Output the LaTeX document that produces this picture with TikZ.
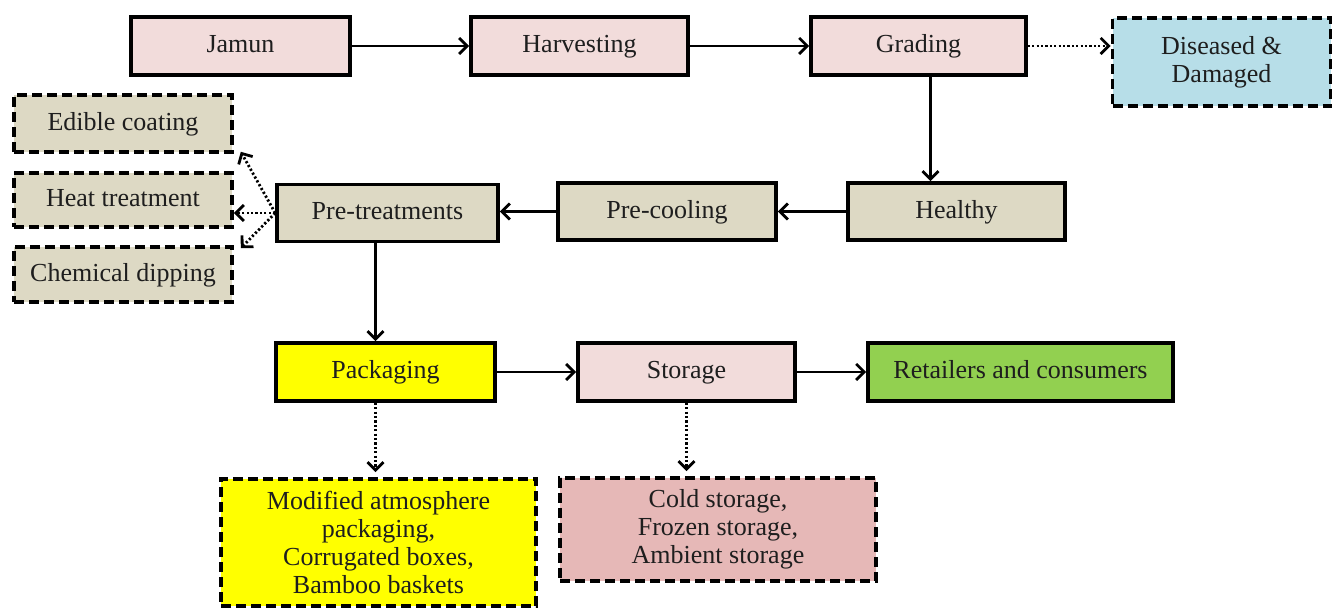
\documentclass[tikz,border=0pt]{standalone}
\usepackage{fontspec}
\setmainfont{Liberation Serif}
\usetikzlibrary{arrows.meta}
\definecolor{pinkbox}{HTML}{F2DCDB}
\definecolor{tanbox}{HTML}{DDD9C4}
\definecolor{bluebox}{HTML}{B7DEE8}
\definecolor{yelbox}{HTML}{FFFF00}
\definecolor{greenbox}{HTML}{92D050}
\definecolor{rosebox}{HTML}{E6B8B7}
\definecolor{txt}{HTML}{1E1E1E}
\tikzset{
  box/.style={draw=black, line width=3.6pt, rectangle, align=center, text=txt,
    font=\fontsize{26}{28}\selectfont, inner sep=0pt, minimum height=58pt},
  one/.style={text height=18pt, text depth=4pt},
  dbox/.style={box, dash pattern=on 10pt off 5pt},
  arr/.style={line width=2.8pt, -{Straight Barb[length=8pt,width=16pt,line width=2.8pt]}},
  darr/.style={arr, dash pattern=on 2.2pt off 2.2pt}
}
\begin{document}
\begin{tikzpicture}[x=1pt,y=-1pt]
\useasboundingbox (0,0) rectangle (1334,609);
% top row
\node[box, one, fill=pinkbox, minimum width=219pt] (jamun) at (240.5,46) {Jamun};
\node[box, one, fill=pinkbox, minimum width=217pt] (harv) at (579.5,46) {Harvesting};
\node[box, one, fill=pinkbox, minimum width=215pt] (grad) at (918.5,46) {Grading};
\node[dbox, fill=bluebox, minimum width=218pt, minimum height=88pt] (dis) at (1221.5,62) {Diseased \&\\Damaged};
% second row
\node[box, one, fill=tanbox, minimum width=217pt, minimum height=57pt] (healthy) at (956.5,211.5) {Healthy};
\node[box, one, fill=tanbox, minimum width=218pt, minimum height=57pt] (precool) at (667,211.5) {Pre-cooling};
\node[box, one, fill=tanbox, minimum width=221pt, minimum height=57pt] (pretreat) at (387.5,213) {Pre-treatments};
% left options
\node[dbox, one, fill=tanbox, minimum width=218pt, minimum height=57pt] (edible) at (123,123.5) {Edible coating};
\node[dbox, one, fill=tanbox, minimum width=218pt, minimum height=54pt] (heat) at (123,200) {Heat treatment};
\node[dbox, one, fill=tanbox, minimum width=218pt, minimum height=55pt] (chem) at (123,274.5) {Chemical dipping};
% third row
\node[box, one, fill=yelbox, minimum width=219pt] (pack) at (385.5,372) {Packaging};
\node[box, one, fill=pinkbox, minimum width=217pt] (stor) at (686.5,372) {Storage};
\node[box, one, fill=greenbox, minimum width=305pt] (retail) at (1020.5,372) {Retailers and consumers};
% bottom options
\node[dbox, fill=yelbox, minimum width=315pt, minimum height=127pt] (mod) at (378.5,542.5) {Modified atmosphere\\packaging,\\Corrugated boxes,\\Bamboo baskets};
\node[dbox, fill=rosebox, minimum width=316pt, minimum height=103pt] (cold) at (718,529.5) {Cold storage,\\Frozen storage,\\Ambient storage};
% connectors
\draw[arr] (jamun) -- (harv);
\draw[arr] (harv) -- (grad);
\draw[darr] (grad.east) -- (grad.east -| dis.west);
\draw[arr] ([xshift=12pt]grad.south) -- ([xshift=12pt]grad.south |- healthy.north);
\draw[arr] (healthy) -- (precool);
\draw[arr] (precool.west) -- (precool.west -| pretreat.east);
\draw[darr] (pretreat.west) -- ([xshift=7pt,yshift=2pt]edible.south east);
\draw[darr] (pretreat.west) -- (pretreat.west -| heat.east);
\draw[darr] (pretreat.west) -- ([xshift=7pt,yshift=-3pt]chem.north east);
\draw[arr] ([xshift=-12pt]pretreat.south) -- ([xshift=-12pt]pretreat.south |- pack.north);
\draw[arr] (pack) -- (stor);
\draw[arr] (stor) -- (retail);
\draw[darr] ([xshift=-10pt]pack.south) -- ([xshift=-10pt,yshift=5pt]pack.south |- mod.north);
\draw[darr] (stor.south) -- ([yshift=5pt]stor.south |- cold.north);
\end{tikzpicture}
\end{document}
